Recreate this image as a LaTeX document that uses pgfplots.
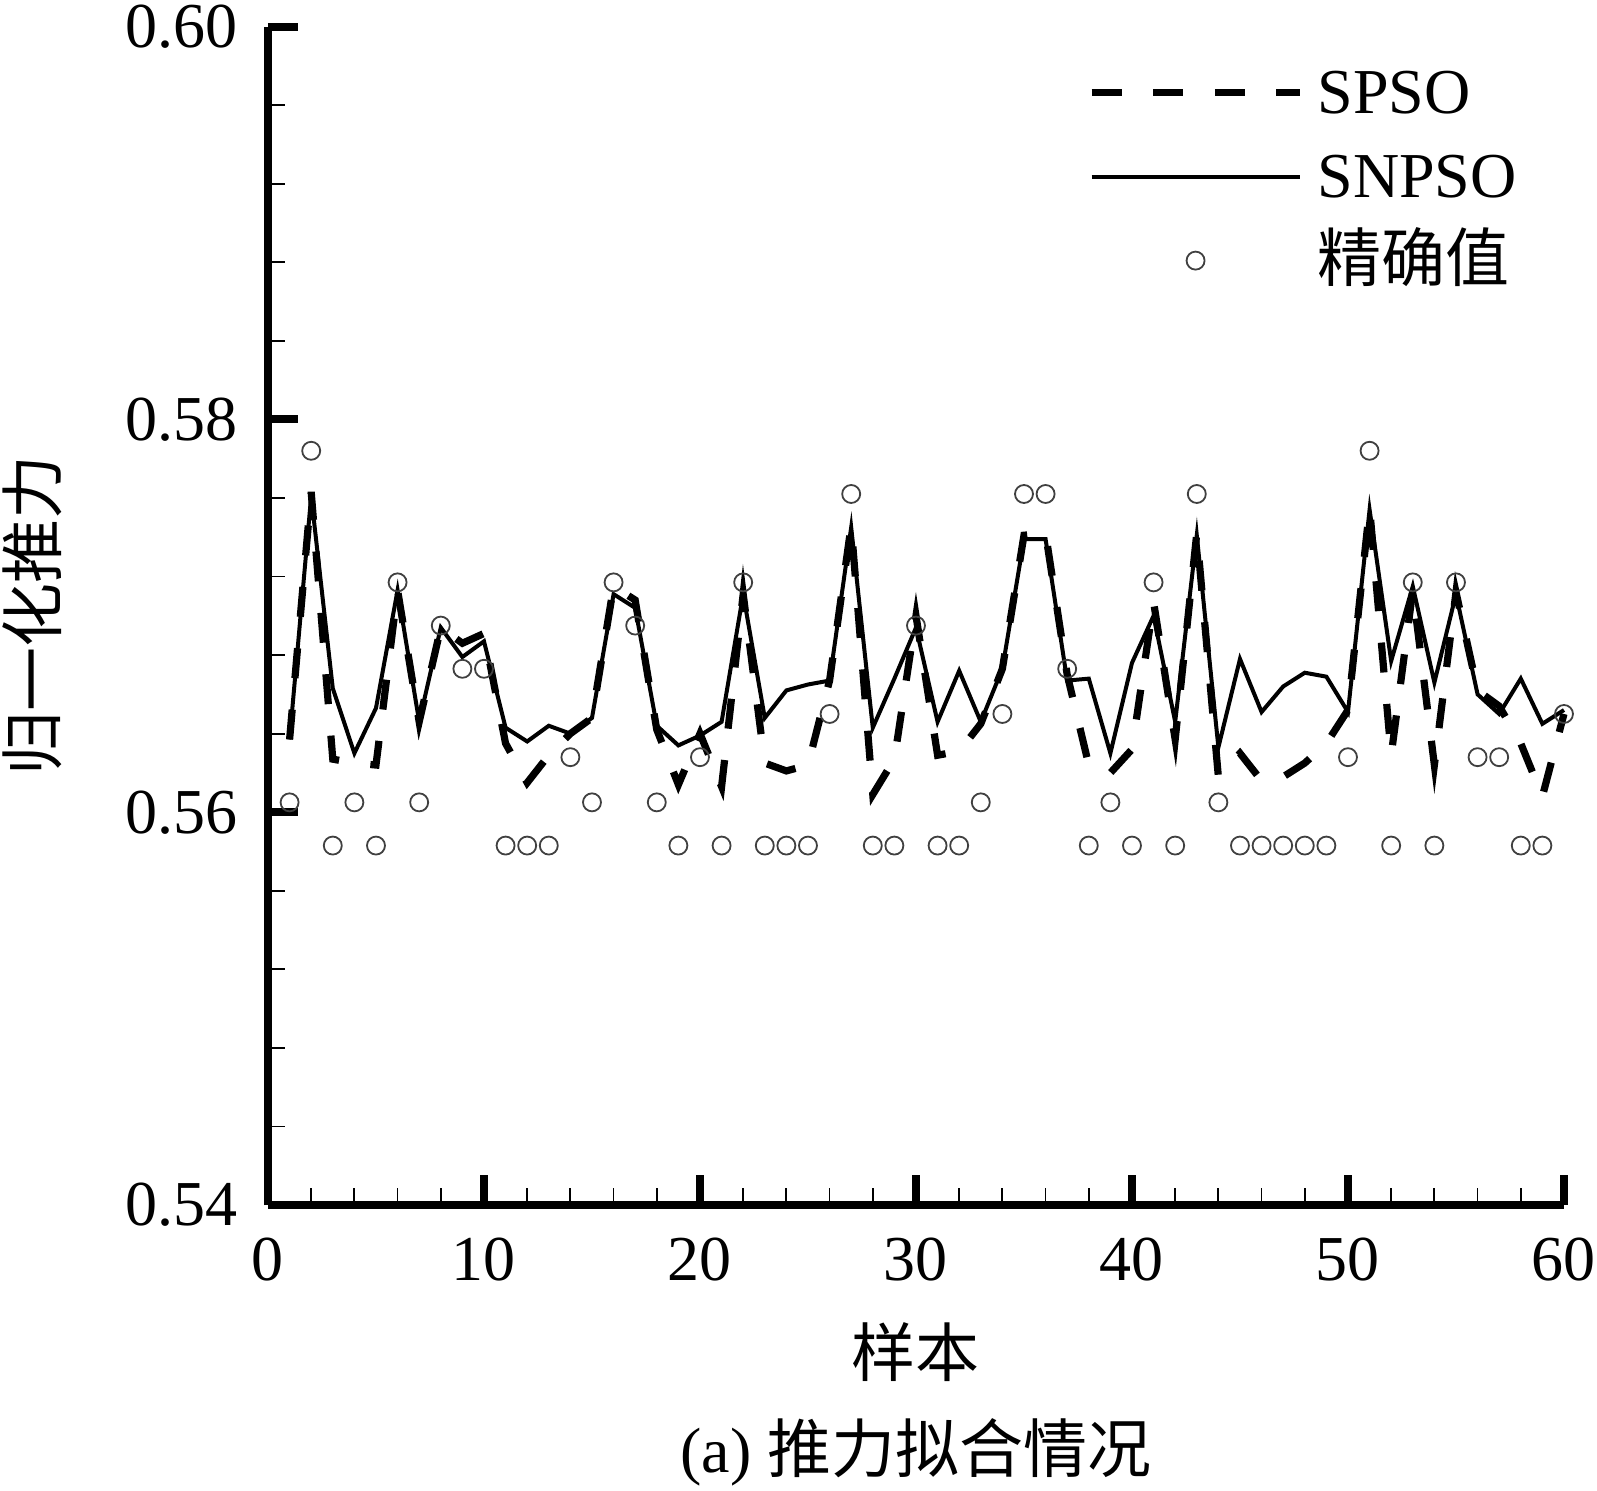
\documentclass[border=0pt]{standalone}
\usepackage{fontspec}
\setmainfont{Liberation Serif}
\newfontfamily\cjk{Noto Sans CJK SC}
\usepackage{pgfplots}
\usepackage{pgfplotstable}
\pgfplotsset{compat=1.18}

\pgfplotstableread{
x y
1 0.5637
2 0.5763
3 0.5627
4 0.5625
5 0.5624
6 0.5713
7 0.5646
8 0.5694
9 0.5686
10 0.5691
11 0.5635
12 0.5615
13 0.5629
14 0.5640
15 0.5648
16 0.5715
17 0.5708
18 0.5642
19 0.5614
20 0.5640
21 0.5613
22 0.5711
23 0.5625
24 0.5621
25 0.5624
26 0.5667
27 0.5746
28 0.5609
29 0.5627
30 0.5700
31 0.5629
32 0.5631
33 0.5645
34 0.5673
35 0.5741
36 0.5742
37 0.5670
38 0.5624
39 0.5620
40 0.5632
41 0.5707
42 0.5637
43 0.5742
44 0.5618
45 0.5630
46 0.5616
47 0.5618
48 0.5625
49 0.5635
50 0.5652
51 0.5755
52 0.5629
53 0.5713
54 0.5624
55 0.5712
56 0.5662
57 0.5654
58 0.5635
59 0.5608
60 0.5650
}\spso

\pgfplotstableread{
x y
1 0.5637
2 0.5761
3 0.5663
4 0.5630
5 0.5653
6 0.5713
7 0.5646
8 0.5694
9 0.5679
10 0.5687
11 0.5643
12 0.5636
13 0.5644
14 0.5640
15 0.5648
16 0.5711
17 0.5704
18 0.5644
19 0.5634
20 0.5639
21 0.5646
22 0.5711
23 0.5648
24 0.5662
25 0.5665
26 0.5667
27 0.5745
28 0.5643
29 0.5668
30 0.5694
31 0.5646
32 0.5672
33 0.5646
34 0.5673
35 0.5739
36 0.5739
37 0.5667
38 0.5668
39 0.5630
40 0.5676
41 0.5700
42 0.5646
43 0.5741
44 0.5633
45 0.5678
46 0.5651
47 0.5664
48 0.5671
49 0.5669
50 0.5651
51 0.5754
52 0.5677
53 0.5715
54 0.5666
55 0.5711
56 0.5660
57 0.5650
58 0.5668
59 0.5645
60 0.5652
}\snpso

\pgfplotstableread{
x y
1 0.5605
2 0.5784
3 0.5583
4 0.5605
5 0.5583
6 0.5717
7 0.5605
8 0.5695
9 0.5673
10 0.5673
11 0.5583
12 0.5583
13 0.5583
14 0.5628
15 0.5605
16 0.5717
17 0.5695
18 0.5605
19 0.5583
20 0.5628
21 0.5583
22 0.5717
23 0.5583
24 0.5583
25 0.5583
26 0.5650
27 0.5762
28 0.5583
29 0.5583
30 0.5695
31 0.5583
32 0.5583
33 0.5605
34 0.5650
35 0.5762
36 0.5762
37 0.5673
38 0.5583
39 0.5605
40 0.5583
41 0.5717
42 0.5583
43 0.5762
44 0.5605
45 0.5583
46 0.5583
47 0.5583
48 0.5583
49 0.5583
50 0.5628
51 0.5784
52 0.5583
53 0.5717
54 0.5583
55 0.5717
56 0.5628
57 0.5628
58 0.5583
59 0.5583
60 0.5650
}\exact

\begin{document}
\begin{tikzpicture}
\useasboundingbox (-67pt,-71.25pt) rectangle (332.25pt,301.25pt);
\begin{axis}[
  at={(0pt,0pt)}, anchor=south west,
  scale only axis, width=324pt, height=294.625pt,
  xmin=0, xmax=60, ymin=0.54, ymax=0.60,
  clip=false,
  axis lines=left, axis line style={-, line width=1.8pt, black},
  xtick={0,10,...,60}, ytick={0.54,0.56,0.58,0.60},
  minor x tick num=4, minor y tick num=4,
  tick align=inside,
  major tick length=7.5pt, minor tick length=4.25pt,
  major tick style={line width=2pt, black},
  minor tick style={line width=0.45pt, black},
  /pgf/number format/assume math mode=true,
  tick label style={font=\fontsize{16}{19}\selectfont},
  yticklabel style={/pgf/number format/fixed, /pgf/number format/fixed zerofill, /pgf/number format/precision=2, xshift=-4.2pt},
  xticklabel style={yshift=-4.7pt},
  scaled y ticks=false,
  xlabel={\cjk 样本}, ylabel={\cjk 归一化推力},
  label style={font=\fontsize{16}{19}\selectfont},
  xlabel style={at={(axis description cs:0.5,-0.1247)}, anchor=center},
  ylabel style={at={(axis description cs:-0.1821,0.5)}, anchor=center},
  legend style={draw=none, fill=none, inner sep=0pt, outer sep=0pt,
    at={(axis description cs:0.6327,0.9687)}, anchor=north west,
    column sep=3.6pt, row sep=6.4pt,
    font=\fontsize{16}{19}\selectfont,
    nodes={inner sep=0pt, text height=12.6pt, text depth=2pt}},
  legend cell align=left,
  legend image code/.code={\draw[mark repeat=2,mark phase=2,#1] plot coordinates {(0pt,0pt) (26pt,0pt) (52pt,0pt)};},
]
\addplot[black, line width=1.8pt, dash pattern=on 7.5pt off 7.9pt] table[x=x,y=y] {\spso};
\addlegendentry{SPSO}
\addplot[black, line width=1pt] table[x=x,y=y] {\snpso};
\addlegendentry{SNPSO}
\addplot[only marks, mark=o, mark size=2.25pt, mark options={line width=0.45pt, black!75, solid}] table[x=x,y=y] {\exact};
\addlegendentry{\cjk 精确值}
\node[font=\fontsize{16}{19}\selectfont, anchor=center] at (axis description cs:0.5,-0.2096) {(a) {\cjk 推力拟合情况}};
\end{axis}
\end{tikzpicture}
\end{document}
